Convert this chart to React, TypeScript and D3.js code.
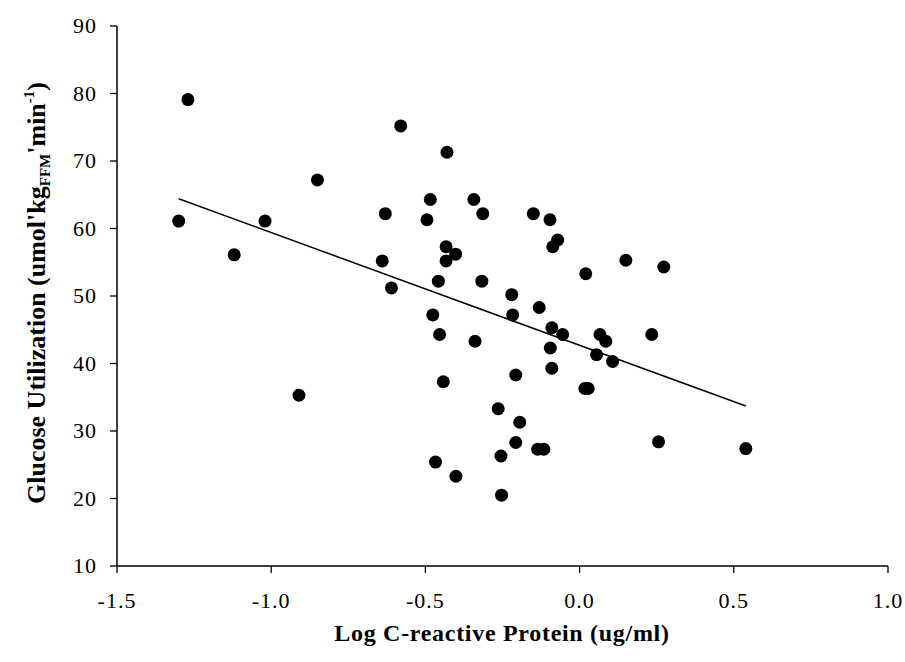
import * as d3 from "d3";

// Log CRP (x) and glucose utilization (y)
const crp = [
  -1.3, -1.27, -1.12, -1.02, -0.91, -0.85, -0.58, -0.64, -0.63, -0.61,
  -0.43, -0.495, -0.484, -0.476, -0.467, -0.458, -0.454, -0.442, -0.433, -0.433,
  -0.402, -0.401, -0.343, -0.339, -0.317, -0.314, -0.264, -0.255, -0.253, -0.22,
  -0.217, -0.207, -0.207, -0.194, -0.15, -0.136, -0.131, -0.116, -0.096, -0.095,
  -0.09, -0.09, -0.087, -0.071, -0.055, 0.017, 0.028, 0.02, 0.055, 0.066,
  0.085, 0.107, 0.15, 0.234, 0.256, 0.273, 0.539,
];
const glucose = [
  61.1, 79.1, 56.1, 61.1, 35.3, 67.2, 75.2, 55.2, 62.2, 51.2,
  71.3, 61.3, 64.3, 47.2, 25.4, 52.2, 44.3, 37.3, 57.3, 55.2,
  56.2, 23.3, 64.3, 43.3, 52.2, 62.2, 33.3, 26.3, 20.5, 50.2,
  47.2, 38.3, 28.3, 31.3, 62.2, 27.3, 48.3, 27.3, 61.3, 42.3,
  45.3, 39.3, 57.3, 58.3, 44.3, 36.3, 36.3, 53.3, 41.3, 44.3,
  43.3, 40.3, 55.3, 44.3, 28.4, 54.3, 27.4,
];

// fitted line as drawn in the figure
const fitIntercept = 42.7;
const fitSlope = -16.7;

const xTicks = [-1.5, -1.0, -0.5, 0.0, 0.5, 1.0];
const yTicks = [10, 20, 30, 40, 50, 60, 70, 80, 90];

const W = 905;
const H = 662;
const serif = "'Liberation Serif', 'Times New Roman', serif";

export default function App() {
  const x = d3.scaleLinear().domain([-1.5, 1.0]).range([117, 888]);
  const y = d3.scaleLinear().domain([10, 90]).range([566, 26]);

  const [x0, x1] = d3.extent(crp) as [number, number];
  const fitLine = d3
    .line<number>()
    .x((d) => x(d))
    .y((d) => y(fitIntercept + fitSlope * d))([x0, x1]);

  return (
    <svg
      width={W}
      height={H}
      style={{ position: "absolute", left: 0, top: 0, background: "#fff" }}
      fontFamily={serif}
    >
      {/* axes */}
      <line x1={x(-1.5)} x2={x(1.0)} y1={y(10)} y2={y(10)} stroke="#000" strokeWidth={1.5} />
      <line x1={x(-1.5)} x2={x(-1.5)} y1={y(10)} y2={y(90)} stroke="#000" strokeWidth={1.5} />

      {xTicks.map((t) => (
        <g key={"x" + t}>
          <line x1={x(t)} x2={x(t)} y1={y(10)} y2={y(10) + 7} stroke="#000" strokeWidth={1.3} />
          <text x={x(t)} y={608} textAnchor="middle" fontSize={22} letterSpacing={1}>
            {t.toFixed(1)}
          </text>
        </g>
      ))}

      {yTicks.map((t) => (
        <g key={"y" + t}>
          <line x1={x(-1.5) - 7} x2={x(-1.5)} y1={y(t)} y2={y(t)} stroke="#000" strokeWidth={1.3} />
          <text x={97} y={y(t)} dy="0.33em" textAnchor="end" fontSize={22} letterSpacing={1}>
            {t}
          </text>
        </g>
      ))}

      {/* regression line */}
      <path d={fitLine ?? ""} fill="none" stroke="#000" strokeWidth={1.5} />

      {crp.map((v, i) => (
        <circle key={i} cx={x(v)} cy={y(glucose[i])} r={6.5} fill="#000" />
      ))}

      {/* axis titles */}
      <text x={502} y={641} textAnchor="middle" fontSize={24} fontWeight="bold" letterSpacing={0.7}>
        Log C-reactive Protein (ug/ml)
      </text>
      <text
        transform="translate(45,293) rotate(-90)"
        textAnchor="middle"
        fontSize={26}
        fontWeight="bold"
      >
        Glucose Utilization (umol'kg
        <tspan fontSize={15} dy={5}>FFM</tspan>
        <tspan dy={-5}>'min</tspan>
        <tspan fontSize={15} dy={-11}>-1</tspan>
        <tspan dy={11}>)</tspan>
      </text>
    </svg>
  );
}
